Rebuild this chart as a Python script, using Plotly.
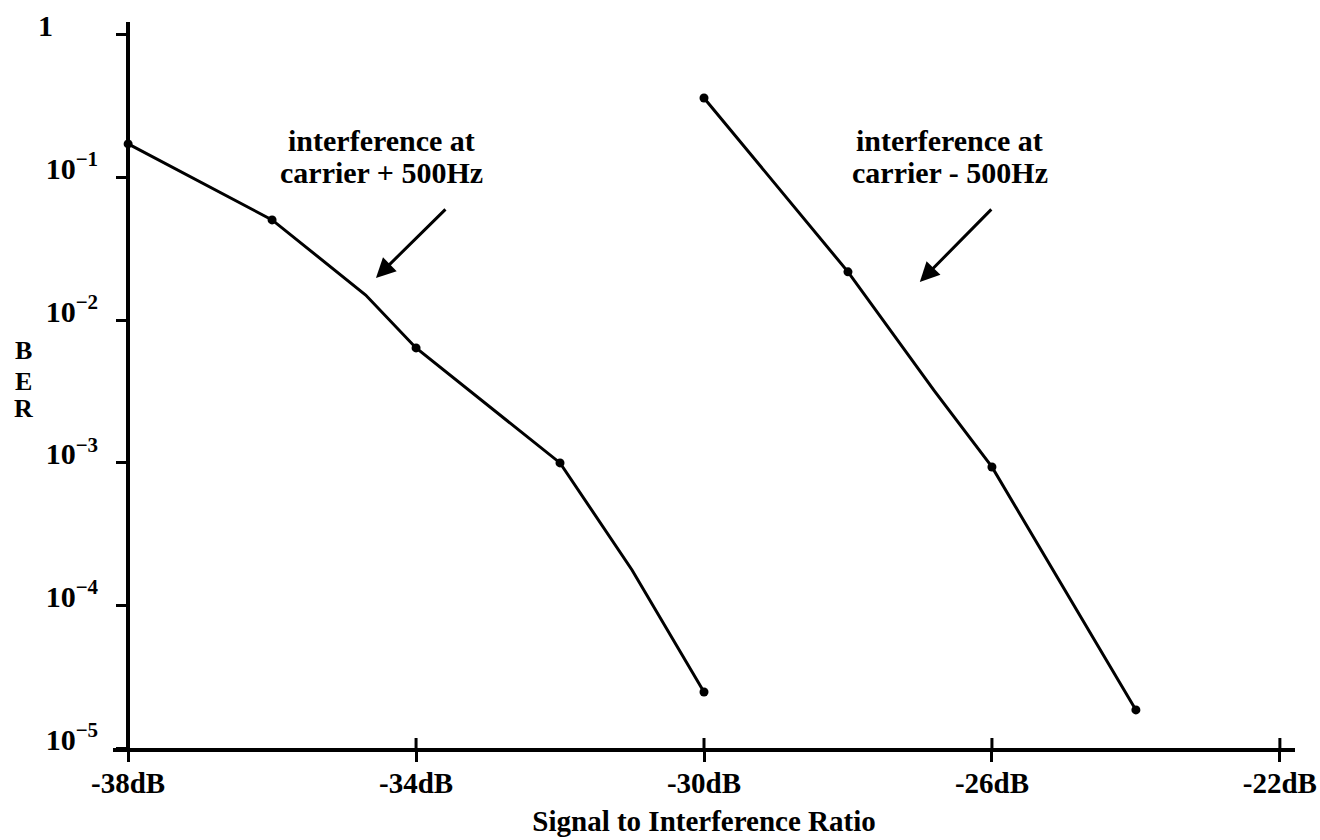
import math
import plotly.graph_objects as go

# ---- data ----
# carrier + 500Hz : measured points and drawn polyline
s1_x = [-38, -36, -34, -32, -30]
s1_y = [0.172, 0.0504, 0.00638, 0.000997, 2.47e-5]
s1_path_x = [-38, -36, -34.7, -34, -32, -31.0, -30]
s1_path_y = [0.172, 0.0504, 0.0150, 0.00638, 0.000997, 0.000177, 2.47e-5]

# carrier - 500Hz
s2_x = [-30, -28, -26, -24]
s2_y = [0.361, 0.0218, 0.000934, 1.85e-5]
s2_path_x = [-30, -28, -26.8, -26, -24]
s2_path_y = [0.361, 0.0218, 0.00319, 0.000934, 1.85e-5]

x_tickvals = [-38, -34, -30, -26, -22]
x_ticktext = ["-38dB", "-34dB", "-30dB", "-26dB", "-22dB"]
y_tickvals = [1, 1e-1, 1e-2, 1e-3, 1e-4, 1e-5]
y_ticktext = ["1" + "\u00a0" * 6, "10<sup>\u22121</sup>", "10<sup>\u22122</sup>",
              "10<sup>\u22123</sup>", "10<sup>\u22124</sup>", "10<sup>\u22125</sup>"]

label1 = ["interference at", "carrier + 500Hz"]
label2 = ["interference at", "carrier - 500Hz"]
x_title = "Signal to Interference Ratio"
y_title = ["B", "E", "R"]

FONT = "Liberation Serif"
BLACK = "#000000"

fig = go.Figure()
for px_, py_ in [(s1_path_x, s1_path_y), (s2_path_x, s2_path_y)]:
    fig.add_trace(go.Scatter(x=px_, y=py_, mode="lines",
                             line=dict(color=BLACK, width=3), showlegend=False,
                             hoverinfo="skip"))
for mx, my in [(s1_x, s1_y), (s2_x, s2_y)]:
    fig.add_trace(go.Scatter(x=mx, y=my, mode="markers",
                             marker=dict(color=BLACK, size=9), showlegend=False))

XR = [-38.21, -21.79]
YR = [-5, 0.09]
ypos = (-38 - XR[0]) / (XR[1] - XR[0])

fig.update_layout(
    width=1320, height=840,
    margin=dict(l=113, r=25, t=22, b=92, autoexpand=False),
    paper_bgcolor="white", plot_bgcolor="white",
    font=dict(family=FONT, size=30, color=BLACK, weight="bold"),
    showlegend=False,
    xaxis=dict(range=XR, tickvals=x_tickvals, ticktext=x_ticktext,
               ticks="outside", ticklen=10, tickwidth=3, tickcolor=BLACK,
               showline=True, linewidth=4, linecolor=BLACK, showgrid=False,
               zeroline=False, ticklabeloverflow="allow", automargin=False,
               tickfont=dict(family=FONT, size=29, color=BLACK, weight="bold"),
               ticklabelstandoff=-4,
               title=dict(text=x_title, font=dict(family=FONT, size=29, color=BLACK, weight="bold"),
                          standoff=14),
               anchor="y"),
    yaxis=dict(type="log", range=YR, tickvals=y_tickvals, ticktext=y_ticktext,
               ticks="outside", ticklen=10, tickwidth=3, tickcolor=BLACK,
               showline=True, linewidth=4, linecolor=BLACK, showgrid=False,
               zeroline=False, ticklabeloverflow="allow", automargin=False,
               tickfont=dict(family=FONT, size=30, color=BLACK, weight="bold"),
               ticklabelstandoff=12, ticklabelshift=-9,
               anchor="free", position=ypos),
)

# inner halves of the crossing tick marks, placed at the tick values
for v in x_tickvals:
    fig.add_shape(type="line", xref="x", yref="paper", ysizemode="pixel", yanchor=0,
                  x0=v, x1=v, y0=0, y1=10, line=dict(color=BLACK, width=3))
for v in y_tickvals:
    lv = math.log10(v)
    fig.add_shape(type="line", xref="paper", yref="y", xsizemode="pixel", xanchor=ypos,
                  x0=0, x1=10, y0=lv, y1=lv, line=dict(color=BLACK, width=3))

ann_font = dict(family=FONT, size=30, color=BLACK, weight="bold")
# label lines (data coords; y in log10 units)
for cx, lines in [(-34.474, label1), (-26.585, label2)]:
    for ly, txt in zip([-0.743, -0.968], lines):
        fig.add_annotation(x=cx, y=ly, xref="x", yref="y", text=txt, showarrow=False,
                           font=ann_font, xanchor="center", yanchor="middle")

# arrows (head x,y ; tail ax,ay)
for hx, hy, tx, ty in [(-34.557, -1.704, -33.571, -1.213), (-27.002, -1.732, -25.988, -1.213)]:
    fig.add_annotation(x=hx, y=hy, ax=tx, ay=ty, xref="x", yref="y", axref="x", ayref="y",
                       text="", showarrow=True, arrowhead=2, arrowsize=1.3, arrowwidth=3,
                       arrowcolor=BLACK)

# stacked y-axis title
for ypaper, ch in zip([0.548, 0.5055, 0.467], y_title):
    fig.add_annotation(x=-0.0761, y=ypaper, xref="paper", yref="paper", text=ch,
                       showarrow=False, font=dict(family=FONT, size=26, color=BLACK, weight="bold"),
                       xanchor="center", yanchor="middle")

fig.write_html("out.html")
